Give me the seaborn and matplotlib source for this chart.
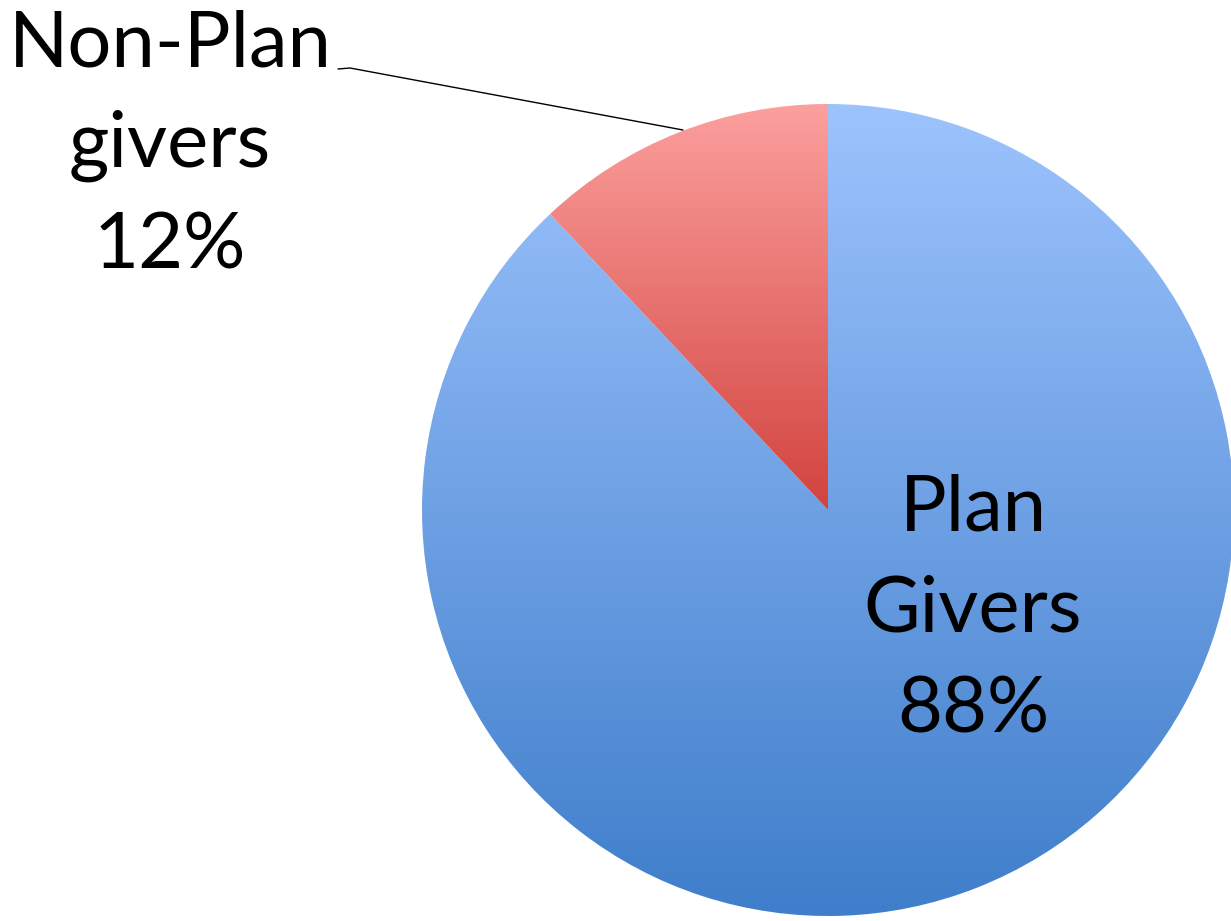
import matplotlib
matplotlib.use('Agg')
import matplotlib.pyplot as plt
import matplotlib.colors as mcolors
import numpy as np
import seaborn as sns

# data
labels = ['Plan\nGivers\n88%', 'Non-Plan\ngivers\n12%']
shares = [88, 12]
top_colors = ['#9DC3FD', '#FCA09E']
bottom_colors = ['#3F7ECB', '#D2433E']

sns.set_theme(style='white')
plt.rcParams['font.family'] = ['Lato', 'DejaVu Sans']

W, H = 1231, 921
fig = plt.figure(figsize=(W / 100, H / 100), dpi=100)
ax = fig.add_axes([0, 0, 1, 1])

cx, cy, r = 828, H - 510, 406
wedges, _ = ax.pie(shares, center=(cx, cy), radius=r, startangle=90,
                   counterclock=False, frame=True,
                   wedgeprops=dict(edgecolor='none', linewidth=0))

# vertical gradient fill for each slice, clipped to the wedge
for w, c0, c1 in zip(wedges, top_colors, bottom_colors):
    w.set_facecolor('none')
    bb = w.get_path().get_extents()
    cmap = mcolors.LinearSegmentedColormap.from_list('g', [c1, c0])
    grad = np.linspace(0, 1, 256).reshape(-1, 1)
    im = ax.imshow(grad, cmap=cmap, origin='lower', aspect='auto',
                   extent=[bb.x0, bb.x1, bb.y0, bb.y1], zorder=0)
    im.set_clip_path(w)

ax.set_xlim(0, W)
ax.set_ylim(0, H)
ax.set_aspect('equal')
ax.axis('off')

ax.text(973, H - 610, labels[0], ha='center', va='center', fontsize=56,
        color='black', linespacing=1.52)
ax.text(170, H - 146, labels[1], ha='center', va='center', fontsize=56,
        color='black', linespacing=1.52)
ax.plot([338, 350, 683], [H - 69, H - 68, H - 130], color='black', lw=1)

fig.savefig('out.png', dpi=100)
